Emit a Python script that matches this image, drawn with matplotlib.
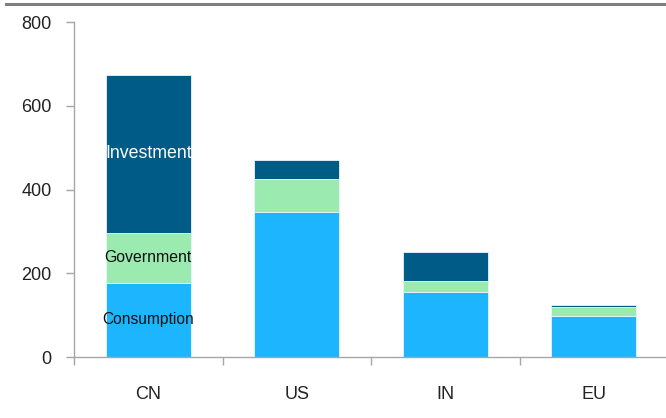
import matplotlib.pyplot as plt
from matplotlib.lines import Line2D
import numpy as np

# GDP components by economy
countries = ["CN", "US", "IN", "EU"]
consumption = [178, 346, 156, 99]
government = [118, 79, 26, 21]
investment = [379, 45, 68, 4]

colors = {"Consumption": "#1EB5FF", "Government": "#9BEBB0", "Investment": "#005B87"}
plt.rcParams["font.family"] = ["Liberation Sans", "DejaVu Sans"]

fig = plt.figure(figsize=(6.66, 4.18), dpi=100)
ax = fig.add_axes([0.1111, 0.1459, 0.892, 0.8008])

x = np.arange(len(countries))
width = 0.57
cons = np.array(consumption)
gov = np.array(government)
inv = np.array(investment)

ax.bar(x, cons, width, color=colors["Consumption"], edgecolor="#E8F6FF", linewidth=0.6)
ax.bar(x, gov, width, bottom=cons, color=colors["Government"], edgecolor="#E8F6FF", linewidth=0.6)
ax.bar(x, inv, width, bottom=cons + gov, color=colors["Investment"], edgecolor="#E8F6FF", linewidth=0.6)

# segment labels on the first bar
ax.text(x[0], cons[0] / 2, "Consumption", ha="center", va="center",
        fontsize=11.2, color="#111111")
ax.text(x[0], cons[0] + gov[0] / 2, "Government", ha="center", va="center",
        fontsize=11.4, color="#111111")
ax.text(x[0], cons[0] + gov[0] + inv[0] / 2, "Investment", ha="center", va="center",
        fontsize=12.8, color="white")

ax.set_ylim(0, 800)
ax.set_xlim(-0.5, 3.5)
ax.set_yticks([0, 200, 400, 600, 800])
ax.tick_params(axis="y", direction="out", length=6, width=1, color="#A6A6A6",
               labelsize=13, labelcolor="#222222", pad=10)

ax.set_xticks(x)
ax.set_xticklabels(countries)
ax.tick_params(axis="x", which="major", length=0, labelsize=13,
               labelcolor="#222222", pad=21)
ax.set_xticks(np.arange(-0.5, 4.0, 1.0), minor=True)
ax.tick_params(axis="x", which="minor", direction="out", length=6, width=1, color="#A6A6A6")

for side in ["top", "right"]:
    ax.spines[side].set_visible(False)
for side in ["left", "bottom"]:
    ax.spines[side].set_color("#A6A6A6")
    ax.spines[side].set_linewidth(1)

# rule across the top of the figure
fig.add_artist(Line2D([0.009, 1.0], [0.990, 0.990], transform=fig.transFigure,
                      color="#7F7F7F", linewidth=2.2))

fig.savefig("out.png", dpi=100)
